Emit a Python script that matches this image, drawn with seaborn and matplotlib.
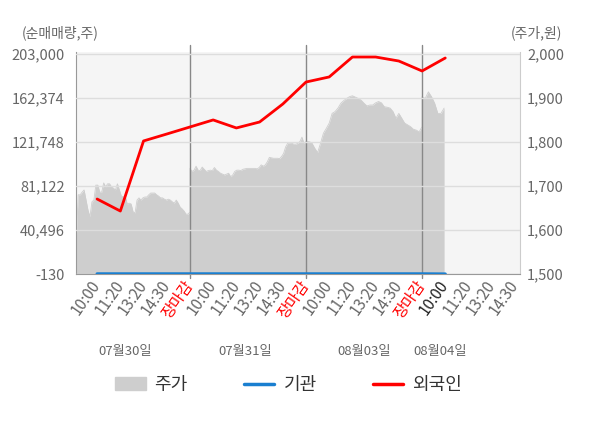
import numpy as np
import pandas as pd
import matplotlib
matplotlib.use("Agg")
import matplotlib.pyplot as plt
import seaborn as sns
from matplotlib.patches import Patch
from matplotlib.lines import Line2D

# x axis labels
times = ["10:00", "11:20", "13:20", "14:30", "장마감"]
dates = ["07월30일", "07월31일", "08월03일", "08월04일"]

# net buying (shares), one point per time slot
foreign = [69100, 58000, 122700, 129100, 135600,
           142100, 134700, 140200, 156800, 177100,
           181800, 200200, 200200, 196500, 187300,
           199300]
institution = [0, 0, 0, 0, 0, 0, 0, 0, 0, 0, 0, 0, 0, 0, 0, -130]

# intraday price (won)
price_d1 = [1573, 1680, 1680, 1686, 1691, 1668, 1645, 1630, 1664, 1668, 1702, 1702,
            1686, 1686, 1707, 1698, 1705, 1705, 1698, 1695, 1691, 1705, 1691, 1677,
            1675, 1677, 1659, 1661, 1659, 1641, 1639, 1668, 1673, 1668, 1673, 1675,
            1675, 1680, 1684, 1684, 1684, 1680, 1677, 1673, 1673, 1670, 1668, 1670,
            1668, 1664, 1661, 1668, 1661, 1652, 1648, 1643, 1636, 1636, 1641]
price_d2 = [1740, 1733, 1736, 1745, 1736, 1735, 1743, 1738, 1733, 1735, 1736, 1735,
            1742, 1736, 1733, 1729, 1727, 1725, 1727, 1729, 1721, 1725, 1733, 1736,
            1736, 1735, 1738, 1739, 1740, 1740, 1740, 1740, 1740, 1739, 1742, 1748,
            1745, 1748, 1755, 1765, 1764, 1763, 1763, 1763, 1762, 1767, 1774, 1789,
            1797, 1798, 1797, 1795, 1795, 1797, 1801, 1811, 1797, 1801]
price_d3 = [1801, 1801, 1798, 1786, 1776, 1797, 1820, 1831, 1843, 1865, 1869, 1877,
            1888, 1894, 1899, 1903, 1905, 1902, 1899, 1895, 1888, 1882, 1884, 1884,
            1889, 1892, 1889, 1880, 1879, 1877, 1869, 1854, 1865, 1854, 1843, 1839,
            1835, 1829, 1827, 1823, 1835]
price_d4 = [1903, 1899, 1914, 1903, 1888, 1865, 1865, 1877]

left_ticks = [-130, 40496, 81122, 121748, 162374, 203000]
right_ticks = [1500, 1600, 1700, 1800, 1900, 2000]

# slot positions: each day has 5 slots, day boundaries at 5, 10, 15
slot_x = np.arange(1, len(foreign) + 1)
tick_labels = times * 3 + times[:4]
price_x = np.concatenate([
    np.linspace(0.1, 5, len(price_d1)),
    np.linspace(5, 10, len(price_d2)),
    np.linspace(10, 15, len(price_d3)),
    np.linspace(15, 15.95, len(price_d4)),
])
price = np.concatenate([price_d1, price_d2, price_d3, price_d4])

flow = pd.DataFrame({"x": slot_x, "외국인": foreign, "기관": institution})
px = pd.DataFrame({"x": price_x, "주가": price})

sns.set_style("white")
plt.rcParams["font.family"] = ["Noto Sans CJK KR", "DejaVu Sans"]

grey_txt = "#666666"
fig = plt.figure(figsize=(6, 4.28), dpi=100)
ax = fig.add_axes([76 / 600, 1 - 274 / 428, 444 / 600, 222 / 428])
ax2 = ax.twinx()
ax.set_zorder(ax2.get_zorder() + 1)
ax.patch.set_visible(False)
ax2.patch.set_visible(True)
ax2.set_facecolor("#f5f5f5")

# price area on the right axis
ax2.fill_between(px["x"], 1500, px["주가"], color="#cecece", lw=0)
sns.lineplot(data=px, x="x", y="주가", ax=ax2, color="#cecece", lw=0.6,
             estimator=None, sort=False)

xmin, xmax = 0.09, 19.22
ratio = 1.009
ax2.set_ylim(1500, 1500 + 500 * ratio)
ax.set_ylim(-130, -130 + 203130 * ratio)
ax.set_xlim(xmin, xmax)

ax.yaxis.grid(True, color="#dddddd", lw=1)
ax.set_axisbelow(False)
for xv in [5, 10, 15]:
    ax.axvline(xv, ymin=-0.02, ymax=1.03, color="#888888", lw=1, clip_on=False, zorder=1)

ax.axhline(0, color="#aaaaaa", lw=0.8, zorder=1)
sns.lineplot(data=flow, x="x", y="기관", ax=ax, color="#1a7fd0", lw=2.3, zorder=3)
sns.lineplot(data=flow, x="x", y="외국인", ax=ax, color="#ff0000", lw=2.0, zorder=4)

ax.set_xlabel("")
ax.set_ylabel("")
ax2.set_ylabel("")

for s in ["top", "right"]:
    ax.spines[s].set_visible(False)
for s in ["top", "left", "bottom"]:
    ax2.spines[s].set_visible(False)
ax.spines["left"].set_color("#999999")
ax.spines["bottom"].set_color("#999999")
ax2.spines["right"].set_color("#cccccc")

ax.set_yticks(left_ticks)
ax.set_yticklabels([f"{v:,}" for v in left_ticks])
ax2.set_yticks(right_ticks)
ax2.set_yticklabels([f"{v:,}" for v in right_ticks])
ax.tick_params(axis="y", length=0, pad=8, labelsize=10.5, labelcolor=grey_txt)
ax2.tick_params(axis="y", length=0, pad=5, labelsize=10.5, labelcolor=grey_txt)

ax.set_xticks(slot_x.tolist() + [17, 18, 19])
ax.set_xticklabels(tick_labels, rotation=55, ha="right", va="center",
                   rotation_mode="anchor", fontsize=11)
ax.tick_params(axis="x", length=0, pad=6)
for i, lab in enumerate(ax.get_xticklabels()):
    if lab.get_text() == "장마감":
        lab.set_color("#ff0000")
    elif i == 15:
        lab.set_color("#222222")
    else:
        lab.set_color(grey_txt)

for xv, d in zip([2.2, 7.4, 12.5, 15.8], dates):
    ax.text(xv, -0.35, d, transform=ax.get_xaxis_transform(), ha="center",
            va="center", fontsize=9.5, color=grey_txt)

fig.text(22 / 600, 1 - 33 / 428, "(순매매량,주)", ha="left", va="center",
         fontsize=10, color=grey_txt)
fig.text(562 / 600, 1 - 33 / 428, "(주가,원)", ha="right", va="center",
         fontsize=10, color=grey_txt)

handles = [Patch(color="#cecece"),
           Line2D([], [], color="#1a7fd0", lw=2.5),
           Line2D([], [], color="#ff0000", lw=2.5)]
fig.legend(handles, ["주가", "기관", "외국인"], loc="center",
           bbox_to_anchor=(0.481, 1 - 385 / 428), ncol=3, frameon=False,
           fontsize=13, labelcolor="#333333", columnspacing=3.1,
           handlelength=1.7, handletextpad=0.5)

fig.savefig("out.png", dpi=100)
